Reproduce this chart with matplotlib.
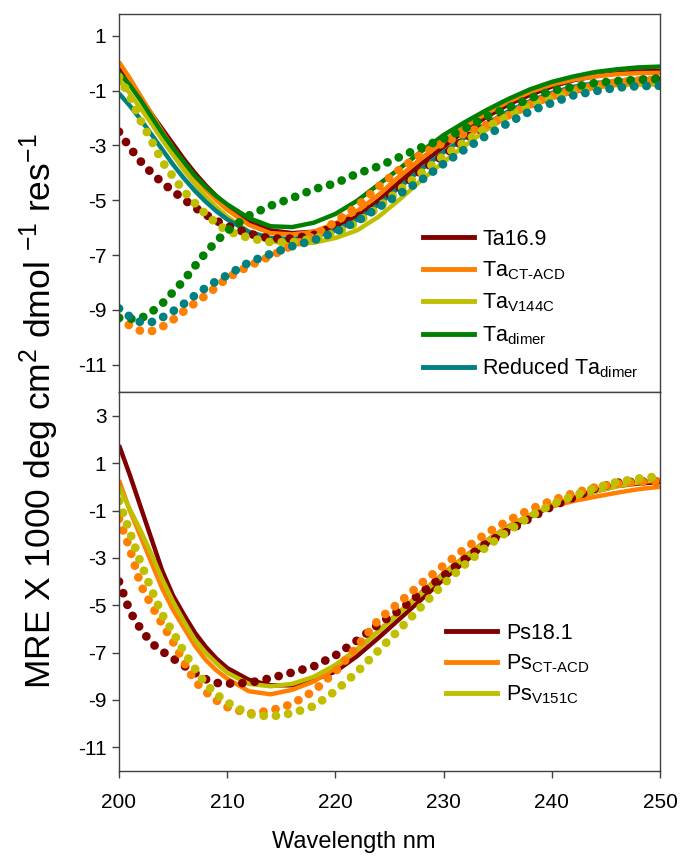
import numpy as np
import matplotlib.pyplot as plt
from matplotlib.lines import Line2D

plt.rcParams['font.family'] = ['Liberation Sans', 'DejaVu Sans']
plt.rcParams['mathtext.fontset'] = 'custom'
plt.rcParams['mathtext.rm'] = 'Liberation Sans'
plt.rcParams['mathtext.it'] = 'Liberation Sans'
plt.rcParams['axes.unicode_minus'] = False

# wavelength grid (nm) shared by every spectrum
wl = [200, 201, 202, 203, 204, 205, 206, 207, 208, 209, 210,
      212, 214, 216, 218, 220, 222, 224, 226, 228, 230,
      232, 234, 236, 238, 240, 242, 244, 246, 248, 250]

# --- top panel, solid lines ---
ta169 = [-0.2, -0.7, -1.25, -1.85, -2.4, -2.95, -3.5, -4.0, -4.45, -4.85, -5.2,
         -5.8, -6.1, -6.2, -6.15, -5.95, -5.6, -5.0, -4.3, -3.65, -3.05,
         -2.45, -1.95, -1.5, -1.15, -0.85, -0.62, -0.47, -0.37, -0.3, -0.28]
ta_ctacd = [0.05, -0.55, -1.2, -1.85, -2.5, -3.1, -3.65, -4.15, -4.6, -5.0, -5.35,
            -5.9, -6.2, -6.25, -6.15, -5.85, -5.4, -4.8, -4.1, -3.45, -2.85,
            -2.3, -1.82, -1.4, -1.05, -0.78, -0.6, -0.48, -0.4, -0.36, -0.35]
ta_v144c = [-0.6, -1.1, -1.65, -2.2, -2.8, -3.35, -3.9, -4.4, -4.85, -5.25, -5.6,
            -6.15, -6.5, -6.6, -6.55, -6.38, -6.1, -5.6, -4.95, -4.25, -3.6,
            -3.0, -2.42, -1.93, -1.52, -1.2, -0.98, -0.85, -0.8, -0.78, -0.78]
ta_dimer = [-0.35, -0.8, -1.35, -1.95, -2.55, -3.1, -3.6, -4.1, -4.5, -4.85, -5.15,
            -5.65, -5.95, -5.98, -5.82, -5.5, -5.02, -4.42, -3.82, -3.2, -2.62,
            -2.14, -1.7, -1.3, -0.95, -0.68, -0.48, -0.32, -0.22, -0.15, -0.12]
ta_red = [-1.1, -1.55, -2.05, -2.6, -3.15, -3.7, -4.2, -4.65, -5.05, -5.4, -5.7,
          -6.15, -6.38, -6.42, -6.32, -6.1, -5.72, -5.15, -4.5, -3.85, -3.25,
          -2.7, -2.2, -1.75, -1.38, -1.08, -0.86, -0.72, -0.65, -0.6, -0.58]

# --- top panel, dotted lines ---
ta169_d = [-2.5, -3.08, -3.58, -4.0, -4.36, -4.67, -4.97, -5.26, -5.52, -5.75, -5.93,
           -6.22, -6.4, -6.4, -6.27, -5.95, -5.63, -5.14, -4.53, -3.9, -3.37,
           -2.75, -2.25, -1.85, -1.55, -1.25, -1.02, -0.85, -0.72, -0.62, -0.55]
ta_ctacd_d = [-9.28, -9.58, -9.77, -9.78, -9.62, -9.36, -9.05, -8.76, -8.48, -8.17, -7.84,
              -7.4, -7.04, -6.65, -6.3, -5.79, -5.22, -4.5, -3.85, -3.3, -2.9,
              -2.55, -2.25, -1.9, -1.5, -1.2, -0.98, -0.82, -0.7, -0.63, -0.6]
ta_v144c_d = [-0.5, -1.2, -2.1, -2.82, -3.6, -4.14, -4.67, -5.1, -5.5, -5.84, -6.12,
              -6.38, -6.53, -6.53, -6.4, -6.2, -5.82, -5.25, -4.6, -3.98, -3.38,
              -2.85, -2.33, -1.9, -1.55, -1.27, -1.06, -0.94, -0.87, -0.83, -0.82]
ta_dimer_d = [-9.3, -9.33, -9.32, -9.08, -8.77, -8.35, -7.92, -7.41, -6.92, -6.5, -6.12,
              -5.56, -5.2, -4.92, -4.6, -4.38, -4.03, -3.76, -3.41, -3.06, -2.76,
              -2.38, -1.94, -1.62, -1.28, -1.0, -0.86, -0.72, -0.65, -0.6, -0.57]
ta_red_d = [-8.95, -9.25, -9.45, -9.45, -9.28, -9.05, -8.78, -8.48, -8.2, -7.95, -7.74,
            -7.27, -6.96, -6.68, -6.46, -6.16, -5.77, -5.26, -4.75, -4.25, -3.67,
            -3.13, -2.63, -2.17, -1.75, -1.45, -1.17, -1.02, -0.89, -0.83, -0.82]

# --- bottom panel, solid lines ---
ps181 = [1.76, 0.5, -0.85, -2.2, -3.55, -4.6, -5.4, -6.15, -6.75, -7.25, -7.65,
         -8.15, -8.38, -8.38, -8.15, -7.8, -7.15, -6.37, -5.55, -4.73, -3.9,
         -3.15, -2.41, -1.78, -1.27, -0.8, -0.46, -0.2, 0.03, 0.14, 0.2]
ps_ctacd = [0.28, -1.0, -2.1, -3.2, -4.3, -5.2, -5.95, -6.7, -7.3, -7.75, -8.1,
            -8.63, -8.76, -8.57, -8.22, -7.65, -6.9, -6.08, -5.25, -4.43, -3.65,
            -2.92, -2.25, -1.66, -1.18, -0.83, -0.6, -0.42, -0.25, -0.1, 0.0]
ps_v151c = [0.0, -0.95, -1.85, -2.85, -3.9, -4.85, -5.68, -6.45, -7.0, -7.45, -7.85,
            -8.32, -8.42, -8.32, -8.02, -7.52, -6.85, -6.1, -5.3, -4.5, -3.72,
            -2.98, -2.3, -1.72, -1.2, -0.78, -0.45, -0.2, 0.02, 0.18, 0.3]

# --- bottom panel, dotted lines ---
ps181_d = [-4.0, -5.26, -6.0, -6.6, -6.95, -7.25, -7.55, -7.85, -8.12, -8.28, -8.31,
           -8.28, -8.08, -7.84, -7.58, -7.12, -6.49, -5.8, -5.18, -4.45, -3.75,
           -3.03, -2.37, -1.86, -1.32, -0.83, -0.45, -0.07, 0.17, 0.22, 0.25]
ps_ctacd_d = [-1.35, -2.62, -4.14, -5.0, -5.8, -6.55, -7.4, -8.2, -8.65, -9.02, -9.3,
              -9.58, -9.45, -9.17, -8.62, -7.8, -6.75, -5.6, -4.85, -4.05, -3.32,
              -2.6, -1.95, -1.42, -0.95, -0.58, -0.27, -0.02, 0.13, 0.2, 0.25]
ps_v151c_d = [-0.6, -1.92, -3.2, -4.34, -5.4, -6.15, -6.97, -7.66, -8.32, -8.76, -9.1,
              -9.6, -9.7, -9.56, -9.26, -8.62, -7.82, -6.9, -5.98, -5.03, -4.1,
              -3.27, -2.52, -1.86, -1.25, -0.74, -0.38, -0.05, 0.2, 0.35, 0.45]

top_labels = ['Ta16.9', r'Ta$_{\text{CT-ACD}}$', r'Ta$_{\text{V144C}}$',
              r'Ta$_{\text{dimer}}$', r'Reduced Ta$_{\text{dimer}}$']
bot_labels = ['Ps18.1', r'Ps$_{\text{CT-ACD}}$', r'Ps$_{\text{V151C}}$']

c_red = '#800000'
c_orange = '#ff8000'
c_yellow = '#bfbf00'
c_green = '#008000'
c_teal = '#008080'

top_colors = [c_red, c_orange, c_yellow, c_green, c_teal]
bot_colors = [c_red, c_orange, c_yellow]

solid_lw = 3.2
dot_lw = 6.3
dots = (0, (0.01, 1.4))

fig = plt.figure(figsize=(6.8, 8.57), dpi=100, facecolor='white')
ax1 = fig.add_axes([0.175, 0.5426, 0.7956, 0.4411])
ax2 = fig.add_axes([0.175, 0.1003, 0.7956, 0.4422])

for y, c in zip([ta169, ta_ctacd, ta_v144c, ta_dimer, ta_red], top_colors):
    ax1.plot(wl, y, color=c, lw=solid_lw, solid_capstyle='butt')
for y, c in zip([ta169_d, ta_ctacd_d, ta_v144c_d, ta_dimer_d, ta_red_d], top_colors):
    ax1.plot(wl, y, color=c, lw=dot_lw, linestyle=dots, dash_capstyle='round')

for y, c in zip([ps181, ps_ctacd, ps_v151c], bot_colors):
    ax2.plot(wl, y, color=c, lw=solid_lw, solid_capstyle='butt')
for y, c in zip([ps181_d, ps_ctacd_d, ps_v151c_d], bot_colors):
    ax2.plot(wl, y, color=c, lw=dot_lw, linestyle=dots, dash_capstyle='round')

spine_c = '#404040'
for ax in (ax1, ax2):
    ax.set_xlim(200, 250)
    for s in ax.spines.values():
        s.set_color(spine_c)
        s.set_linewidth(1.0)
    ax.tick_params(axis='both', direction='out', length=5, width=1,
                   color=spine_c, labelsize=15, pad=4)

ax1.set_ylim(-12, 1.8)
ax1.set_yticks([1, -1, -3, -5, -7, -9, -11])
ax1.set_xticks([])

ax2.set_ylim(-12, 4)
ax2.set_yticks([3, 1, -1, -3, -5, -7, -9, -11])
ax2.set_xticks([200, 210, 220, 230, 240, 250])
ax2.tick_params(axis='x', pad=11)

fig.text(0.057, 0.52, r'MRE X 1000 deg cm$^2$ dmol $^{-1}$ res$^{-1}$',
         rotation=90, ha='center', va='center', fontsize=25.5)
fig.text(0.52, 0.0175, 'Wavelength nm', ha='center', va='center', fontsize=17)

h_top = [Line2D([], [], color=c, lw=3.5) for c in top_colors]
ax1.legend(h_top, top_labels, loc='upper left', bbox_to_anchor=(0.622, 0.733),
           bbox_transform=fig.transFigure, frameon=False, fontsize=15.5,
           handlelength=2.35, handletextpad=0.4, labelspacing=0.45,
           borderpad=0, borderaxespad=0)

h_bot = [Line2D([], [], color=c, lw=3.5) for c in bot_colors]
ax2.legend(h_bot, bot_labels, loc='upper left', bbox_to_anchor=(0.656, 0.2735),
           bbox_transform=fig.transFigure, frameon=False, fontsize=15.5,
           handlelength=2.35, handletextpad=0.45, labelspacing=0.4,
           borderpad=0, borderaxespad=0)

fig.savefig('out.png', dpi=100, facecolor='white')
